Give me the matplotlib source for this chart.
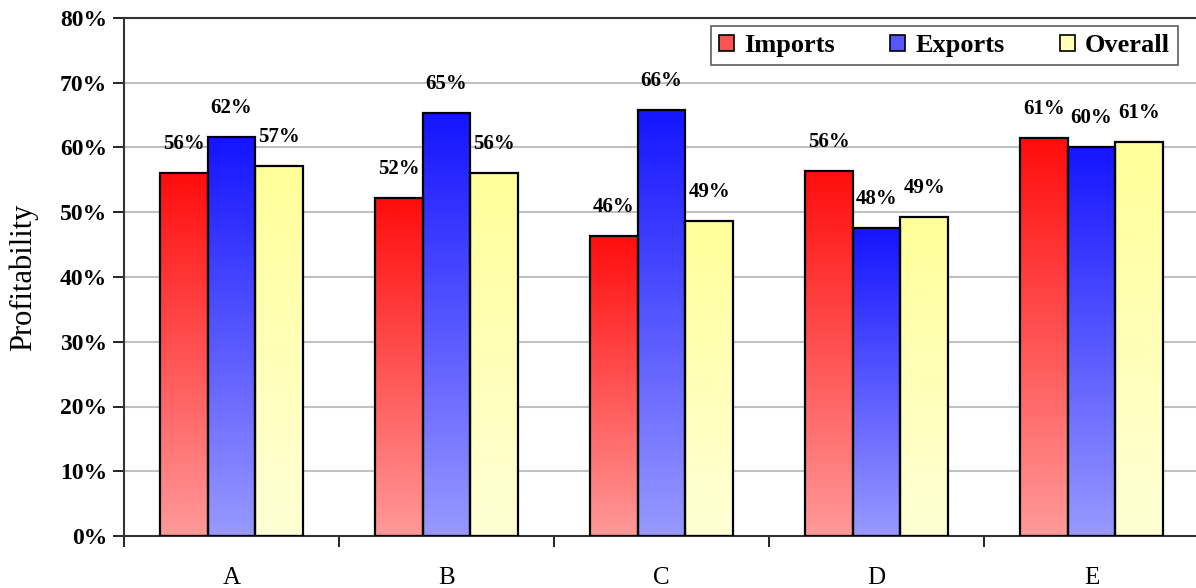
import numpy as np
import matplotlib
matplotlib.use("Agg")
import matplotlib.pyplot as plt
from matplotlib.patches import Patch
from matplotlib.colors import LinearSegmentedColormap

# data (percent)
categories = ["A", "B", "C", "D", "E"]
imports = [56.1, 52.2, 46.4, 56.4, 61.4]
exports = [61.6, 65.3, 65.8, 47.6, 60.1]
overall = [57.1, 56.1, 48.7, 49.2, 60.8]
series_names = ["Imports", "Exports", "Overall"]
y_ticks = [0, 10, 20, 30, 40, 50, 60, 70, 80]

plt.rcParams['font.family'] = ['Liberation Serif', 'DejaVu Serif']

# top colour -> bottom colour for each series
grads = [((1.0, 0.05, 0.05), (1.0, 0.60, 0.60)),
         ((0.08, 0.08, 1.0), (0.60, 0.60, 1.0)),
         ((1.0, 1.0, 0.60), (1.0, 1.0, 0.84))]

W, H = 1196, 588
fig = plt.figure(figsize=(W / 100, H / 100), dpi=100)
ax = fig.add_axes([124 / W, (H - 536) / H, (1199 - 124) / W, (536 - 18) / H])

x = np.arange(len(categories))
bw = 0.222
values = [imports, exports, overall]

for k, (vals, (top, bot)) in enumerate(zip(values, grads)):
    cmap = LinearSegmentedColormap.from_list("g%d" % k, [bot, top])
    offs = (k - 1) * bw
    bars = ax.bar(x + offs, vals, width=bw, facecolor="none",
                  edgecolor="black", linewidth=1.6, zorder=3)
    for b, v in zip(bars, vals):
        x0 = b.get_x()
        grad = np.linspace(0, 1, 256).reshape(-1, 1)
        ax.imshow(grad, cmap=cmap, origin="lower", aspect="auto",
                  extent=(x0, x0 + bw, 0, v), zorder=2, interpolation="bilinear")
        ax.annotate("%d%%" % round(v), (x0 + bw / 2, v), xytext=(0, 29),
                    textcoords="offset pixels", ha="center", va="center",
                    fontsize=15, fontweight="bold", zorder=4)

ax.set_xlim(-0.5, len(categories) - 0.5)
ax.set_ylim(0, 80)
ax.set_yticks(y_ticks)
ax.set_yticklabels(["%d%%" % t for t in y_ticks], fontsize=17, fontweight="bold")
ax.set_xticks(x)
ax.set_xticklabels(categories, fontsize=18)
ax.set_xticks(np.arange(len(categories) + 1) - 0.5, minor=True)
ax.tick_params(axis="x", which="major", length=0, pad=22)
ax.tick_params(axis="x", which="minor", length=8, width=1.2, direction="out")
ax.tick_params(axis="y", length=8, width=1.2, direction="out", pad=4)
ax.grid(axis="y", color="#c0c0c0", linewidth=1.5, zorder=0)
ax.set_axisbelow(True)
for s in ax.spines.values():
    s.set_linewidth(1.5)
    s.set_color("#333333")

ax.set_ylabel("Profitability", fontsize=22)
ax.yaxis.set_label_coords(-86 / (1199 - 124), 0.5)

handles = [Patch(facecolor=(t[0] * 0.5 + b[0] * 0.5, t[1] * 0.5 + b[1] * 0.5, t[2] * 0.5 + b[2] * 0.5),
                 edgecolor="black", linewidth=1.2) for t, b in grads]
leg = fig.legend(handles, series_names, ncol=3, loc="upper right",
                 bbox_to_anchor=(1178 / W, 1 - 26 / H), frameon=True, fancybox=False,
                 prop={"size": 19, "weight": "bold"}, handlelength=0.55, handleheight=0.55,
                 handletextpad=0.4, columnspacing=2.1, borderpad=0.3, borderaxespad=0)
leg.get_frame().set_edgecolor("#333333")
leg.get_frame().set_linewidth(1.2)

fig.savefig("out.png", dpi=100)
